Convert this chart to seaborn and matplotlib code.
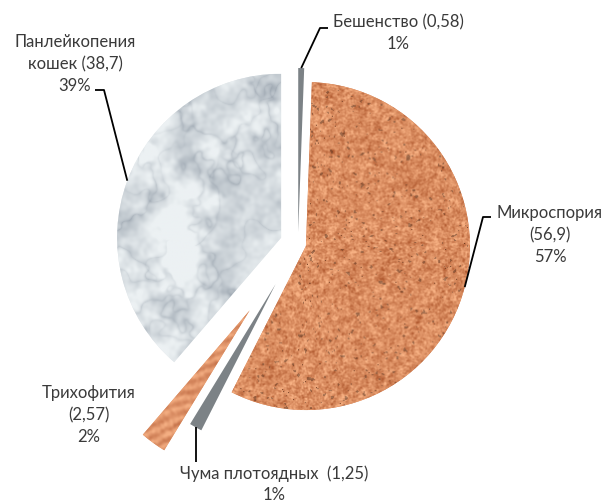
import numpy as np
import matplotlib
matplotlib.use('Agg')
import matplotlib.pyplot as plt
import seaborn as sns

# Данные диаграммы
names = ['Бешенство', 'Микроспория', 'Чума плотоядных ', 'Трихофития', 'Панлейкопения\nкошек']
values = [0.58, 56.9, 1.25, 2.57, 38.7]
shares = ['1%', '57%', '1%', '2%', '39%']

# Оформление
explode = [0.073, 0.05, 0.28, 0.5, 0.11]
base_colors = ['#7c8286', '#d98a61', '#7c8286', '#e29a6e', '#e3e9ec']
name_sep = [' ', '\n', ' ', '\n', ' ']

sns.set_theme(style='white')
plt.rcParams['font.family'] = ['Lato', 'DejaVu Sans']

W, H = 607, 504
R = 164            # радиус круга в пикселях
CX, CY = 298, 244  # центр круга в пикселях


def px(x, y):
    return (x - CX) / R, (CY - y) / R


rng = np.random.default_rng(7)


def smooth(n, sigma):
    w = rng.standard_normal((n, n))
    k = np.fft.fftfreq(n)
    kk = k[:, None] ** 2 + k[None, :] ** 2
    out = np.real(np.fft.ifft2(np.fft.fft2(w) * np.exp(-2 * (np.pi * sigma) ** 2 * kk)))
    return (out - out.mean()) / out.std()


def blend(t, dark, light):
    t = np.clip(t, 0, 1)[..., None]
    return (np.array(dark) + (np.array(light) - np.array(dark)) * t) / 255


N = 330

# пробка
f = 0.75 * smooth(N, 0.7) + 0.45 * smooth(N, 1.8) + 0.1 * smooth(N, 10)
cork = blend(0.58 + 0.2 * f, (178, 92, 50), (248, 178, 132))
grains = smooth(N, 1.0) < -1.9
cork[grains] = cork[grains] * 0.72
dots = rng.random((N, N)) < 0.0015
cork[dots] = np.array([110, 60, 35]) / 255

# мрамор
clouds = smooth(N, 18) + 0.6 * smooth(N, 6) + 0.35 * smooth(N, 2)
f1 = smooth(N, 26) + 0.4 * smooth(N, 8) + 0.2 * smooth(N, 3)
f2 = smooth(N, 16) + 0.4 * smooth(N, 5)
veins = 0.55 * np.exp(-np.abs(f1) / 0.28) + 0.3 * np.exp(-np.abs(f2) / 0.2)
alpha = np.clip(0.5 * veins + 0.1 * clouds + 0.1, 0, 0.7)[..., None]
marble = (np.array([236, 241, 243]) * (1 - alpha) + np.array([118, 130, 144]) * alpha) / 255

# дерево
rows, cols = np.mgrid[0:N, 0:N]
a = np.deg2rad(22)
u = rows * np.cos(a) + cols * np.sin(a)
s = np.sin(2 * np.pi * u / 9 + 1.8 * smooth(N, 20))
wood = blend(0.6 + 0.25 * s + 0.1 * smooth(N, 1.2), (195, 112, 72), (244, 174, 130))

textures = {1: cork, 3: wood, 4: marble}

fig = plt.figure(figsize=(W / 100, H / 100), dpi=100)
ax = fig.add_axes([0, 0, 1, 1])

wedges, _ = ax.pie(values, explode=explode, startangle=90, counterclock=False,
                   colors=base_colors, radius=1, wedgeprops=dict(linewidth=0))

for i, tex in textures.items():
    w = wedges[i]
    cx, cy = w.center
    im = ax.imshow(tex, extent=(cx - w.r, cx + w.r, cy - w.r, cy + w.r),
                   zorder=w.get_zorder() + 0.5, interpolation='bilinear')
    im.set_clip_path(w)

# подписи
label_xy = [(398, 33), (550, 235), (274, 484), (89, 415), (75, 64)]
leaders = {0: [(320, 28), (328, 28)], 1: [(483, 217), (491, 217)],
           2: [(196, 462)], 4: [(104, 90), (95, 90)]}

for i, w in enumerate(wedges):
    txt = f"{names[i]}{name_sep[i]}({str(values[i]).replace('.', ',')})\n{shares[i]}"
    ax.text(*px(*label_xy[i]), txt, ha='center', va='center', fontsize=12,
            color='#3a3a3a', linespacing=1.42, zorder=5)
    if i in leaders:
        th = np.deg2rad((w.theta1 + w.theta2) / 2)
        x0 = w.center[0] + w.r * np.cos(th)
        y0 = w.center[1] + w.r * np.sin(th)
        pts = [px(*p) for p in leaders[i]]
        if i == 2:
            pts = [(x0, pts[0][1])]
        xs = [x0] + [p[0] for p in pts]
        ys = [y0] + [p[1] for p in pts]
        ax.plot(xs, ys, color='black', lw=1.3, zorder=4, solid_capstyle='butt')

ax.set_aspect('equal')
ax.set_xlim(-CX / R, (W - CX) / R)
ax.set_ylim((CY - H) / R, CY / R)
ax.axis('off')

fig.savefig('out.png', dpi=100)
